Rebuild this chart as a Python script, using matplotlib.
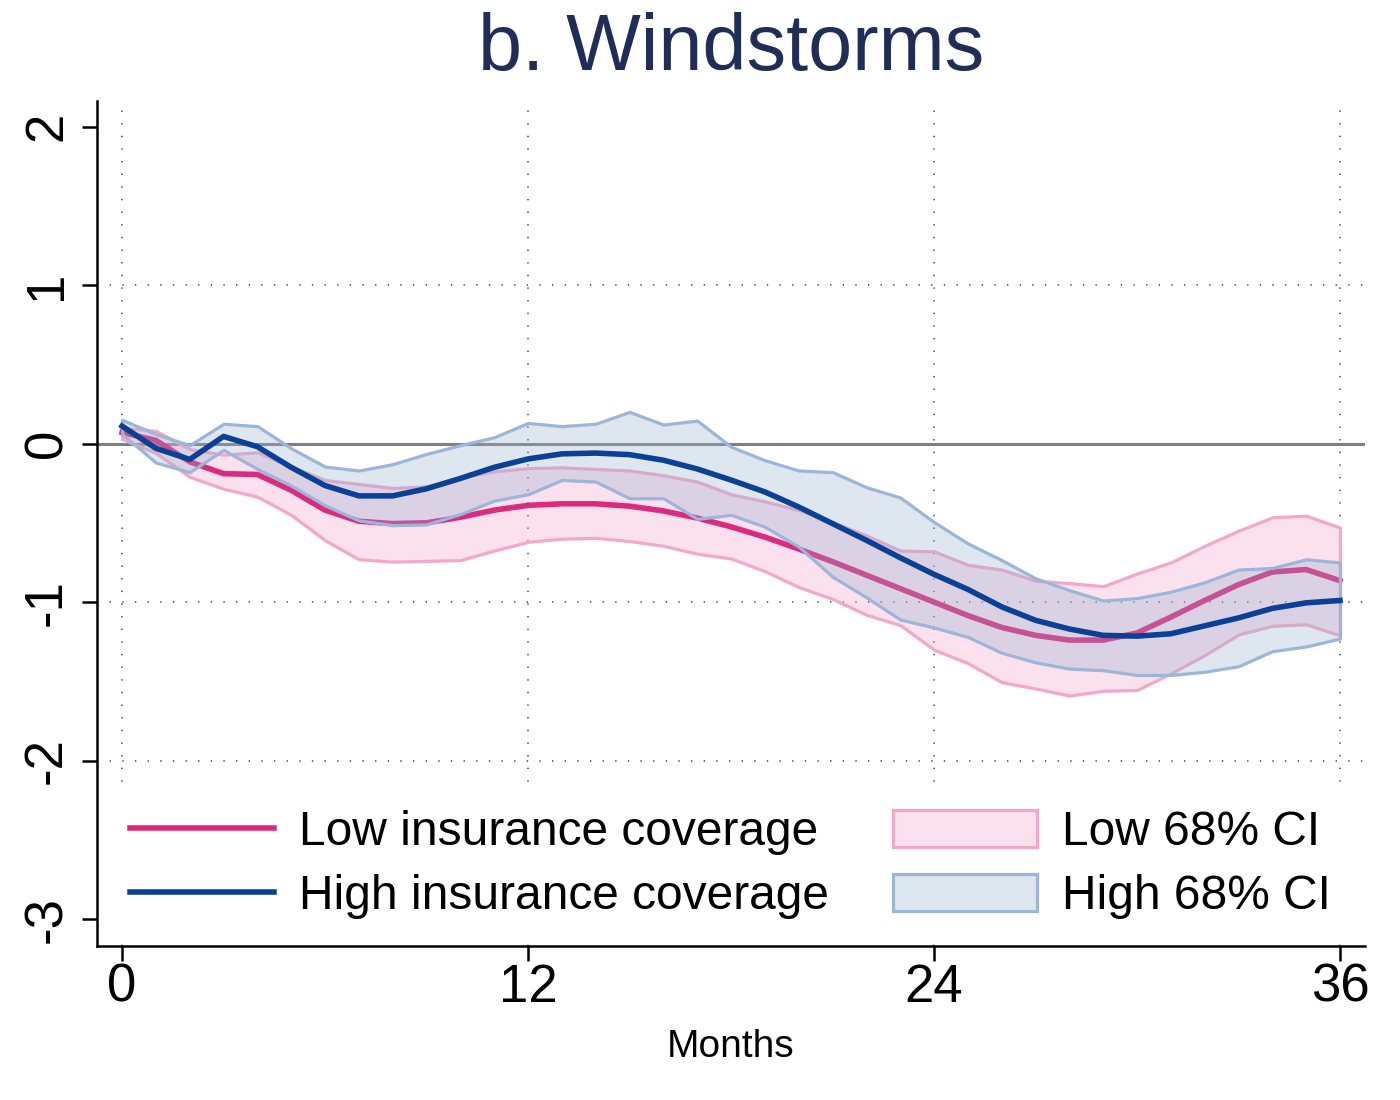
#!/usr/bin/env python3
"""Windstorm response by insurance coverage, with 68% bands."""

import matplotlib

matplotlib.use("Agg")
import matplotlib.pyplot as plt
from matplotlib.colors import to_rgba

MONTHS = list(range(37))

LOW_EST = [
    0.07, 0.02, -0.115, -0.19, -0.195, -0.295, -0.42, -0.49, -0.505, -0.50,
    -0.465, -0.42, -0.39, -0.38, -0.38, -0.395, -0.425, -0.47, -0.525, -0.59,
    -0.665, -0.745, -0.83, -0.915, -1.00, -1.085, -1.16, -1.21, -1.24, -1.24,
    -1.195, -1.095, -0.99, -0.89, -0.81, -0.795, -0.865,
]
LOW_UPPER = [
    0.10, 0.08, -0.035, -0.07, -0.055, -0.145, -0.23, -0.255, -0.28, -0.27,
    -0.215, -0.175, -0.155, -0.15, -0.16, -0.17, -0.20, -0.24, -0.32, -0.365,
    -0.42, -0.495, -0.58, -0.675, -0.68, -0.765, -0.795, -0.865, -0.88, -0.90,
    -0.82, -0.75, -0.645, -0.55, -0.465, -0.455, -0.53,
]
LOW_LOWER = [
    0.03, -0.06, -0.21, -0.285, -0.335, -0.45, -0.61, -0.73, -0.745, -0.74,
    -0.735, -0.675, -0.62, -0.60, -0.595, -0.615, -0.645, -0.695, -0.725, -0.805,
    -0.905, -0.98, -1.08, -1.145, -1.30, -1.385, -1.505, -1.545, -1.59, -1.56,
    -1.555, -1.45, -1.335, -1.205, -1.15, -1.14, -1.21,
]
HIGH_EST = [
    0.11, -0.03, -0.10, 0.045, -0.02, -0.15, -0.265, -0.33, -0.33, -0.285,
    -0.22, -0.15, -0.097, -0.065, -0.06, -0.07, -0.105, -0.16, -0.23, -0.305,
    -0.40, -0.505, -0.61, -0.72, -0.825, -0.92, -1.03, -1.115, -1.17, -1.21,
    -1.215, -1.20, -1.15, -1.10, -1.04, -1.005, -0.99,
]
HIGH_UPPER = [
    0.15, 0.06, -0.01, 0.125, 0.11, -0.03, -0.145, -0.17, -0.13, -0.065,
    -0.01, 0.04, 0.13, 0.11, 0.125, 0.20, 0.12, 0.145, -0.02, -0.105,
    -0.17, -0.18, -0.275, -0.34, -0.495, -0.63, -0.735, -0.85, -0.925, -0.99,
    -0.975, -0.935, -0.875, -0.795, -0.785, -0.73, -0.75,
]
HIGH_LOWER = [
    0.06, -0.12, -0.18, -0.04, -0.16, -0.265, -0.39, -0.485, -0.515, -0.51,
    -0.445, -0.36, -0.32, -0.23, -0.24, -0.345, -0.345, -0.475, -0.45, -0.525,
    -0.65, -0.84, -0.97, -1.11, -1.16, -1.22, -1.32, -1.38, -1.42, -1.43,
    -1.46, -1.46, -1.44, -1.405, -1.31, -1.28, -1.23,
]

X_TICKS = [0, 12, 24, 36]
Y_TICKS = [-3, -2, -1, 0, 1, 2]
GRID_Y = [-2, -1, 1]

LOW_COLOR = "#dc2a7e"
HIGH_COLOR = "#0b4194"
LOW_EDGE = "#f3a8ca"
HIGH_EDGE = "#9cb5d9"
LOW_FACE = to_rgba("#f29ec6", 0.30)
HIGH_FACE = to_rgba("#94afd0", 0.30)
GRID_COLOR = "#6a6a6a"


def main():
    plt.rcParams["font.family"] = ["Liberation Sans", "DejaVu Sans"]
    plt.rcParams["axes.unicode_minus"] = False

    fig = plt.figure(figsize=(14, 11), dpi=100)
    ax = fig.add_axes([0.0693, 0.14, 0.9057, 0.768])
    ax.set_xlim(-0.74, 36.74)
    ax.set_ylim(-3.17, 2.16)

    dotted = (0, (0.7, 5.8))
    for gx in X_TICKS:
        ax.axvline(gx, color=GRID_COLOR, lw=1.4, ls=dotted, zorder=1)
    for gy in GRID_Y:
        ax.axhline(gy, color=GRID_COLOR, lw=1.4, ls=dotted, zorder=1)
    ax.axhline(0, color="#808080", lw=2.2, zorder=1.5)

    ax.fill_between(MONTHS, LOW_LOWER, LOW_UPPER, facecolor=LOW_FACE,
                    edgecolor=LOW_EDGE, linewidth=2.3, zorder=2,
                    label="Low 68% CI")
    ax.plot(MONTHS, LOW_EST, color=LOW_COLOR, lw=4.0, zorder=3,
            solid_joinstyle="round", label="Low insurance coverage")
    ax.fill_between(MONTHS, HIGH_LOWER, HIGH_UPPER, facecolor=HIGH_FACE,
                    edgecolor=HIGH_EDGE, linewidth=2.3, zorder=4,
                    label="High 68% CI")
    ax.plot(MONTHS, HIGH_EST, color=HIGH_COLOR, lw=4.0, zorder=5,
            solid_joinstyle="round", label="High insurance coverage")

    for side in ("top", "right"):
        ax.spines[side].set_visible(False)
    for side in ("left", "bottom"):
        ax.spines[side].set_linewidth(1.8)
        ax.spines[side].set_color("black")

    ax.set_xticks(X_TICKS)
    ax.set_yticks(Y_TICKS)
    ax.tick_params(axis="both", length=11, width=1.8, labelsize=38,
                   color="black")
    ax.tick_params(axis="x", pad=1)
    ax.tick_params(axis="y", pad=7)
    for lab in ax.get_yticklabels():
        lab.set_rotation(90)
        lab.set_va("center")

    ax.set_xlabel("Months", fontsize=28, labelpad=12)

    handles, labels = ax.get_legend_handles_labels()
    order = ["Low insurance coverage", "High insurance coverage",
             "Low 68% CI", "High 68% CI"]
    lookup = dict(zip(labels, handles))
    leg = ax.legend([lookup[k] for k in order], order, ncol=2,
                    loc="lower left", bbox_to_anchor=(0.0071, 0.0036),
                    borderaxespad=0, borderpad=0.5, fontsize=34.5,
                    handlelength=3.0, handletextpad=0.53, handleheight=0.8,
                    labelspacing=0.39, columnspacing=1.33,
                    frameon=True, fancybox=False, framealpha=1)
    leg.get_frame().set_facecolor("white")
    leg.get_frame().set_edgecolor("none")
    leg.set_zorder(10)

    fig.text(0.522, 0.936, "b. Windstorms", fontsize=57, color="#1f2d57",
             ha="center", va="baseline")

    fig.savefig("out.png", dpi=100, facecolor="white")
    plt.close(fig)


if __name__ == "__main__":
    main()
